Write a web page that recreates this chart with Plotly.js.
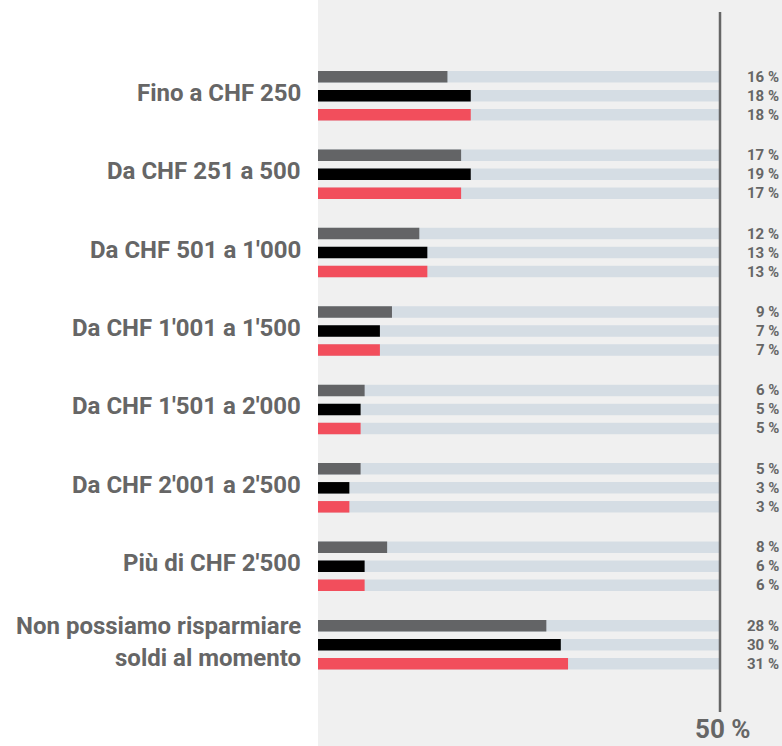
<!DOCTYPE html>
<html><head><meta charset="utf-8">
<script src="https://cdn.plot.ly/plotly-3.0.1.min.js"></script>
<style>html,body{margin:0;padding:0;background:#fff}#chart{width:782px;height:746px}</style>
</head><body><div id="chart"></div>
<script>
const categories = ["Fino a CHF 250","Da CHF 251 a 500","Da CHF 501 a 1'000","Da CHF 1'001 a 1'500","Da CHF 1'501 a 2'000","Da CHF 2'001 a 2'500","Più di CHF 2'500","Non possiamo risparmiare<br>soldi al momento"];
const valuesGray  = [16.1, 17.8, 12.6, 9.2, 5.8, 5.3, 8.6, 28.4];
const valuesBlack = [19.0, 19.0, 13.6, 7.7, 5.3, 3.9, 5.8, 30.2];
const valuesRed   = [19.0, 17.8, 13.6, 7.7, 5.3, 3.9, 5.8, 31.1];
const labelsGray  = ["16 %","17 %","12 %","9 %","6 %","5 %","8 %","28 %"];
const labelsBlack = ["18 %","19 %","13 %","7 %","5 %","3 %","6 %","30 %"];
const labelsRed   = ["18 %","17 %","13 %","7 %","5 %","3 %","6 %","31 %"];
const scaleMax = 50;
const scaleLabel = "50 %";

const PX = 78.42;               // pixels per group unit
const off = 19 / PX;            // offset between rows
const bw = 11.5 / PX;           // bar thickness
const colors = ["#636466", "#000000", "#f24e5c"];
const trackColor = "#d5dde4";
const textColor = "#666666";
const font = "Roboto, 'Noto Sans', sans-serif";
const series = [
  {v: valuesGray, l: labelsGray},
  {v: valuesBlack, l: labelsBlack},
  {v: valuesRed, l: labelsRed}
];
const idx = categories.map((_, i) => i);
const traces = [];
const annotations = [];
series.forEach((s, k) => {
  const ys = idx.map(i => i + (k - 1) * off);
  traces.push({type: "bar", orientation: "h", x: idx.map(() => scaleMax), y: ys, width: bw,
    marker: {color: trackColor}, hoverinfo: "skip", showlegend: false});
  s.l.forEach((t, i) => annotations.push({xref: "paper", yref: "y", x: 1, y: ys[i], xanchor: "right", yanchor: "middle",
    xshift: -1, text: t, showarrow: false, font: {family: font, size: 15, color: textColor, weight: "bold"}}));
});
series.forEach((s, k) => {
  const ys = idx.map(i => i + (k - 1) * off);
  traces.push({type: "bar", orientation: "h", x: s.v, y: ys, width: bw,
    marker: {color: colors[k]}, hoverinfo: "skip", showlegend: false});
});
categories.forEach((c, i) => {
  const lines = c.split("<br>");
  lines.forEach((ln, j) => annotations.push({xref: "paper", yref: "y", x: 0, y: i + (j - (lines.length - 1) / 2) * (32 / PX),
    xanchor: "right", yanchor: "middle", xshift: -15, yshift: 3, text: ln, showarrow: false,
    font: {family: font, size: 24, color: textColor, weight: "bold"}}));
});
annotations.push({xref: "x", yref: "paper", x: scaleMax, y: 0, xanchor: "center", yanchor: "bottom",
  xshift: 3, yshift: 0, text: scaleLabel, showarrow: false, font: {family: font, size: 26, color: textColor, weight: "bold"}});

const layout = {
  width: 782, height: 746,
  margin: {l: 318, r: 0, t: 0, b: 0},
  paper_bgcolor: "#ffffff", plot_bgcolor: "#f0f0f0",
  barmode: "overlay",
  xaxis: {range: [0, 464 / 402 * scaleMax], visible: false, fixedrange: true},
  yaxis: {range: [(746 - 95.72) / PX, -95.72 / PX], visible: false, fixedrange: true},
  shapes: [{type: "line", xref: "x", yref: "y", x0: scaleMax, x1: scaleMax, y0: (12 - 95.72) / PX, y1: (712 - 95.72) / PX,
    line: {color: "#666666", width: 2.5}}],
  annotations: annotations,
  showlegend: false
};
Plotly.newPlot("chart", traces, layout, {displayModeBar: false, staticPlot: true});
</script></body></html>
